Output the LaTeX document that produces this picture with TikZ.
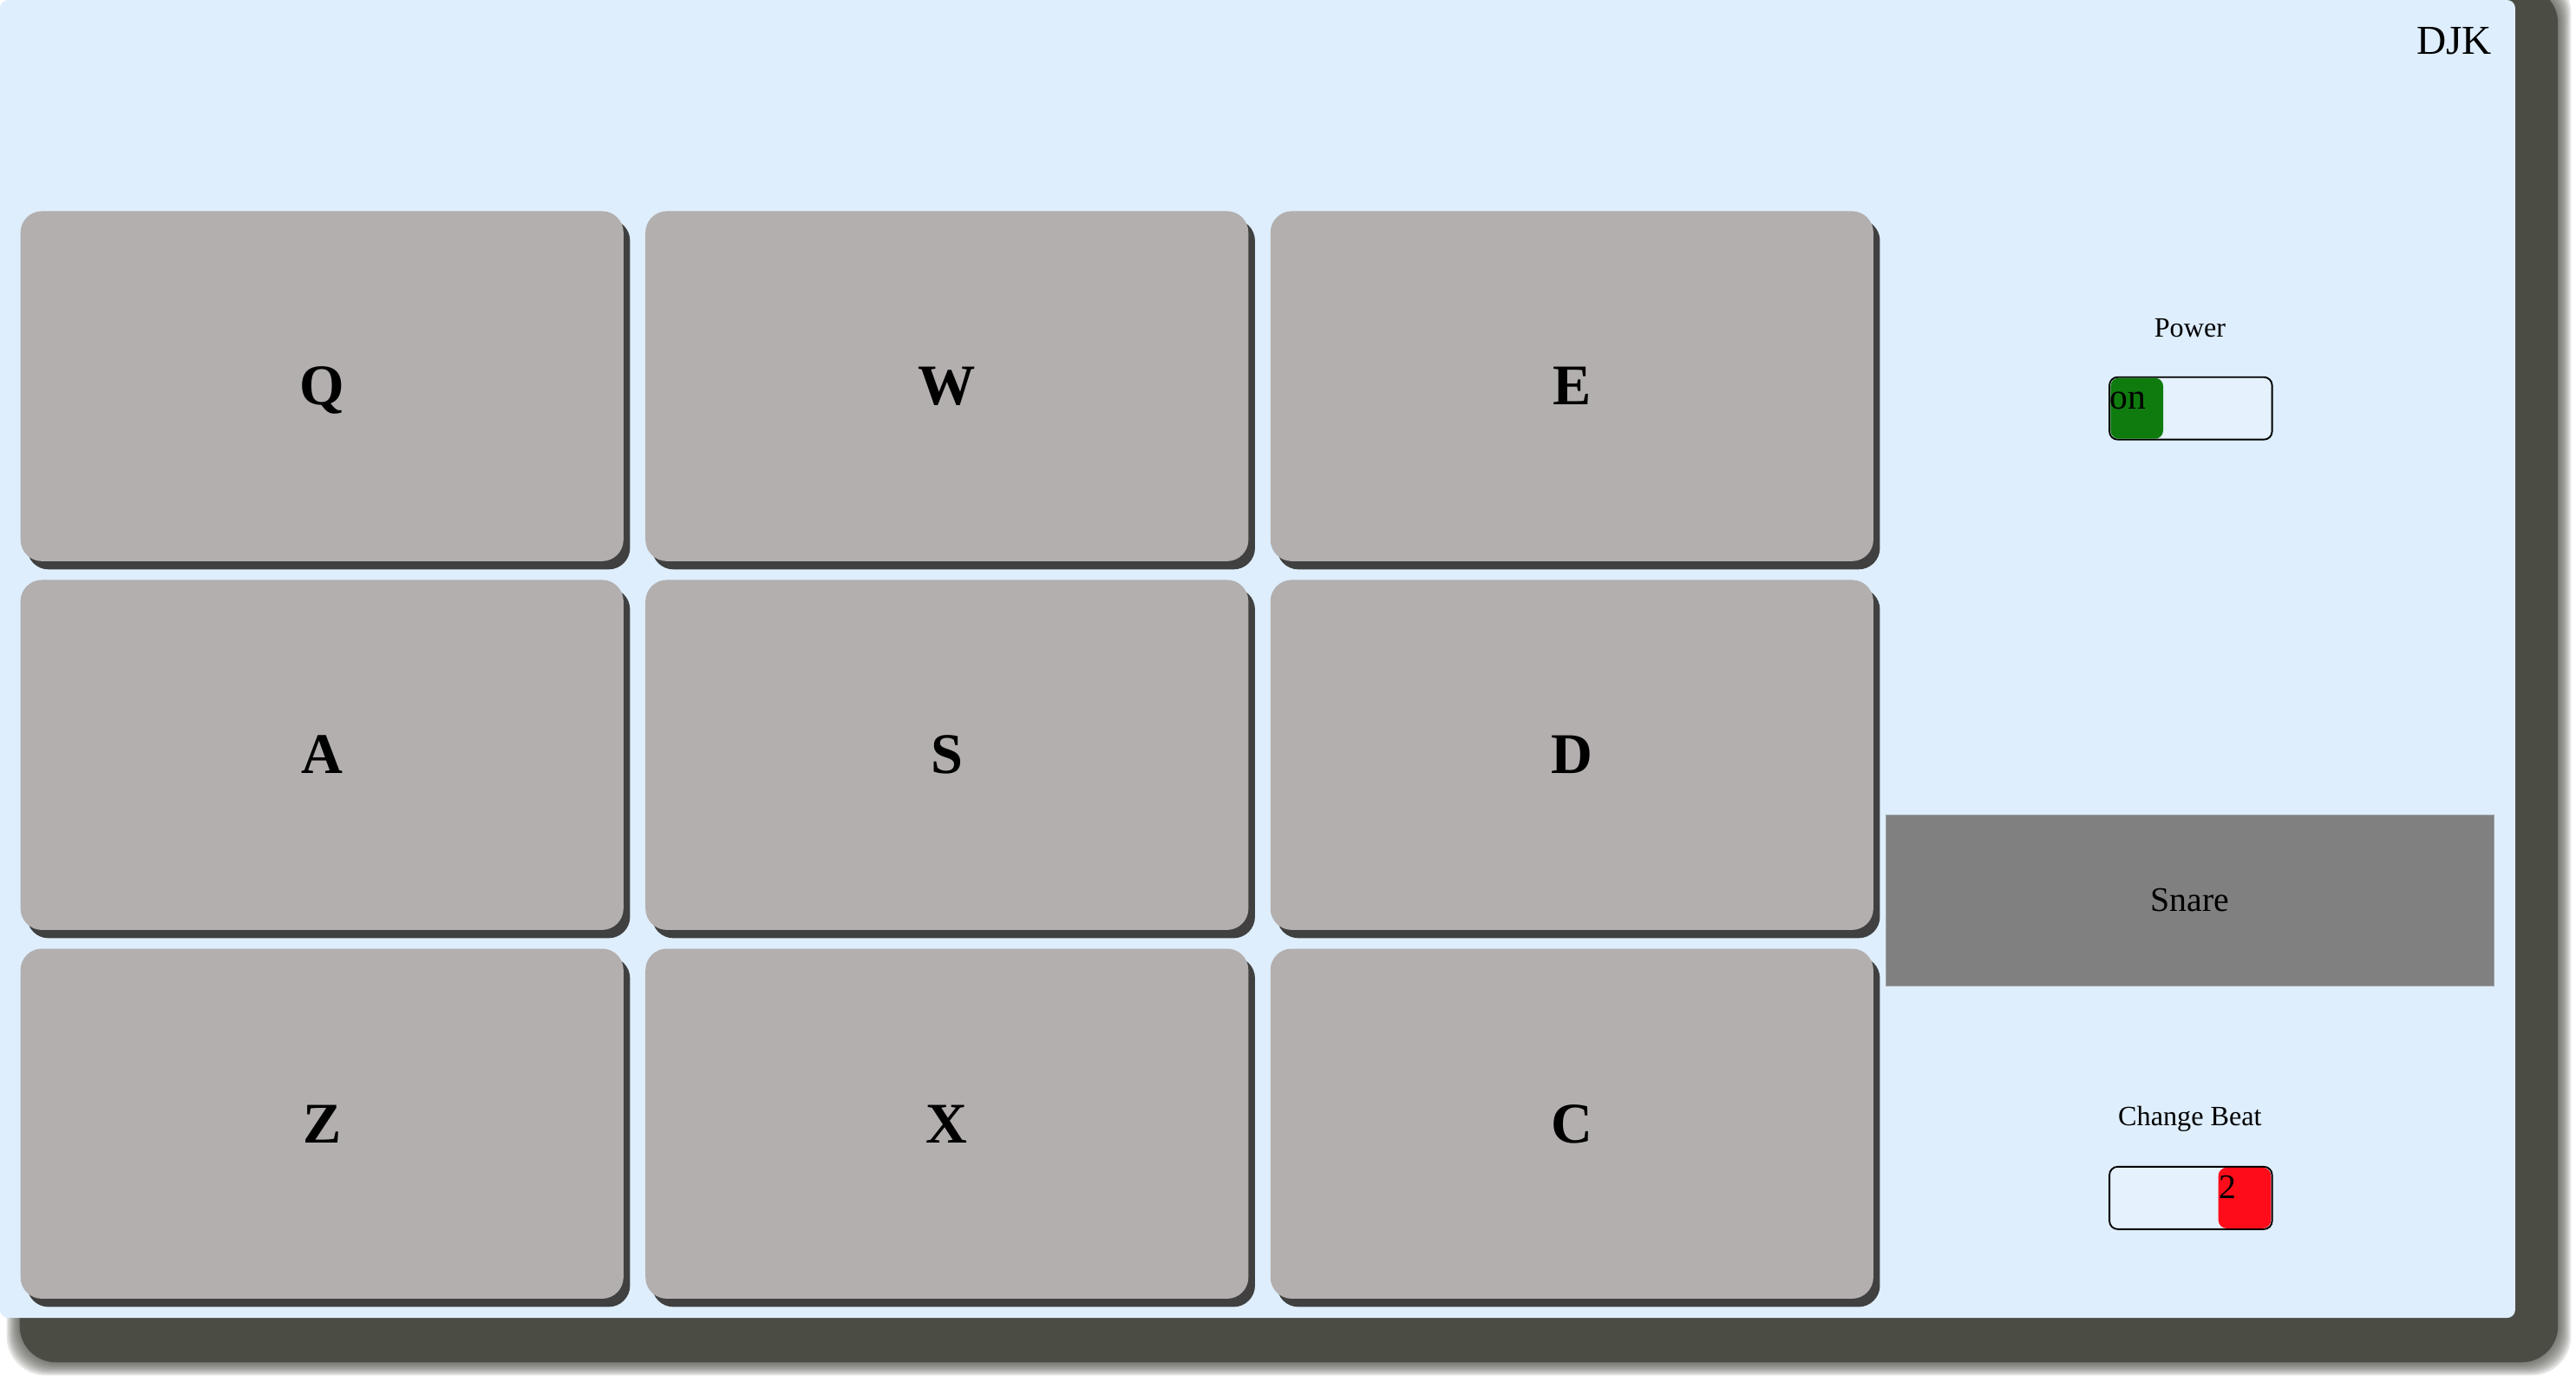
\documentclass[tikz,border=0pt]{standalone}
\usepackage{fontspec}
\setmainfont{Liberation Serif}
\usetikzlibrary{positioning,shadows}
\definecolor{panelblue}{RGB}{222,238,253}
\definecolor{frameshade}{RGB}{75,77,68}
\definecolor{padgray}{RGB}{179,175,174}
\definecolor{snaregray}{RGB}{128,128,128}
\definecolor{ongreen}{RGB}{15,123,15}
\definecolor{beatred}{RGB}{254,12,26}

\begin{document}
\begin{tikzpicture}[x=1pt,y=-1pt]
        \tikzstyle{pad}=[fill=padgray,rounded corners=13pt,minimum width=367pt,minimum height=213pt,inner sep=0pt,text height=23pt,text depth=0pt,font=\fontsize{35}{40}\selectfont\bfseries,drop shadow={shadow xshift=4pt,shadow yshift=-5pt,fill=black!75,opacity=1}]
        \tikzstyle{switch}=[draw=black,line width=1pt,rounded corners=5pt,fill=panelblue!80!white,minimum width=99pt,minimum height=38pt,inner sep=0pt]
        \tikzstyle{knob}=[rounded corners=5pt,minimum width=32pt,minimum height=37pt,inner sep=0pt]
        \tikzstyle{caption}=[anchor=base,inner sep=0pt,font=\fontsize{17}{20}\selectfont]

        \useasboundingbox (0,0) rectangle (1568,841);
        \foreach \i in {8,...,1}
            \fill[frameshade,opacity=0.15,rounded corners=24pt] (12-\i,-8-\i) rectangle (1557+\i,829+\i);
        \fill[frameshade,rounded corners=22pt] (12,-8) rectangle (1557,829);
        \fill[panelblue,rounded corners=5pt] (0,0) rectangle (1531,802);

        \node[pad] (Q) at (196,235) {Q};
        \node[pad] (W) [right=13pt of Q] {W};
        \node[pad] (E) [right=13pt of W] {E};
        \node[pad] (A) [below=11pt of Q] {A};
        \node[pad] (S) [right=13pt of A] {S};
        \node[pad] (D) [right=13pt of S] {D};
        \node[pad] (Z) [below=11pt of A] {Z};
        \node[pad] (X) [right=13pt of Z] {X};
        \node[pad] (C) [right=13pt of X] {C};

        \node[anchor=base east,inner sep=0pt,font=\fontsize{25}{28}\selectfont] (DJK) at (1517,33) {DJK};

        \node[caption] (POWER) at (1333,205) {Power};
        \node[switch] (PSW) at (1333.5,248.5) {};
        \node[knob,fill=ongreen,anchor=west] (PKNOB) at ([xshift=1pt]PSW.west) {};
        \node[anchor=base west,inner sep=0pt,font=\fontsize{22}{24}\selectfont] (ON) at (1284,249) {on};

        \node[fill=snaregray,draw=snaregray!70!panelblue,line width=0.6pt,minimum width=370pt,minimum height=104pt,font=\fontsize{21}{24}\selectfont] (SNARE) at (1333,548) {Snare};

        \node[caption] (BEAT) at (1333,685) {Change Beat};
        \node[switch] (BSW) at (1333.5,729) {};
        \node[knob,fill=beatred,anchor=east] (BKNOB) at ([xshift=-1pt]BSW.east) {};
        \node[anchor=base west,inner sep=0pt,font=\fontsize{21}{24}\selectfont] (TWO) at (1350.5,729.6) {2};
\end{tikzpicture}
\end{document}
